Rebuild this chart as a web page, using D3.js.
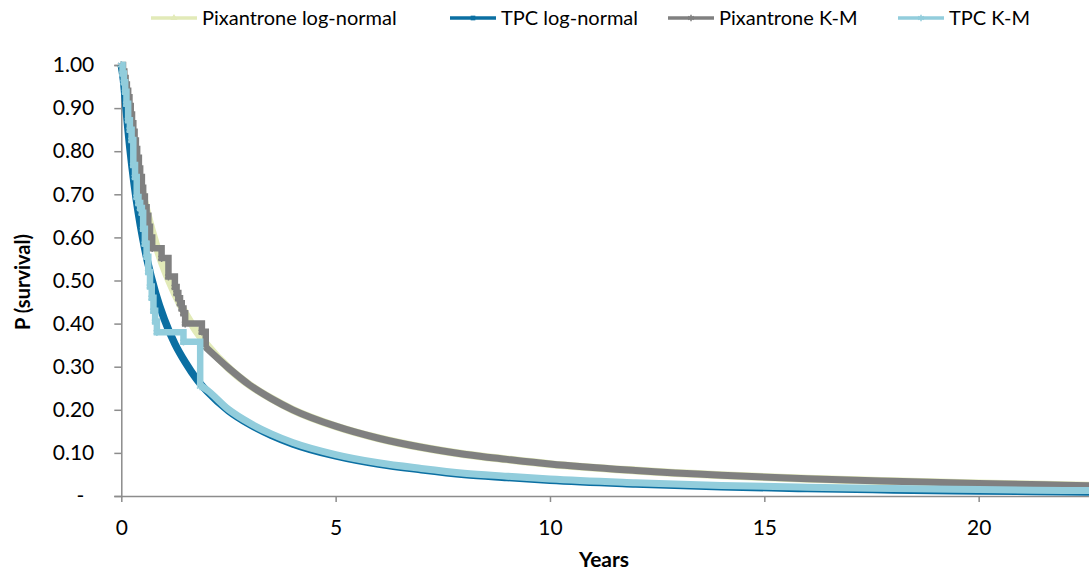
<!DOCTYPE html>
<html>
<head>
<meta charset="utf-8">
<script src="https://cdn.jsdelivr.net/npm/d3@7"></script>
<style>
  body { margin: 0; background: #ffffff; }
  svg text { font-family: Lato, "Noto Sans", sans-serif; fill: #000; }
</style>
</head>
<body>
<svg id="chart" width="1089" height="572"></svg>
<script>
// Survival curves: fitted log-normal vs Kaplan-Meier (years)
const years = [0, 0.05, 0.1, 0.15, 0.2, 0.3, 0.4, 0.5, 0.6, 0.8, 1, 1.25, 1.5, 1.75, 2, 2.5, 3, 3.5, 4, 5, 6, 7, 8, 9, 10, 12, 14, 16, 18, 20, 22, 25];
const pixantroneLogNormal = [1, 0.979, 0.944, 0.906, 0.871, 0.806, 0.750, 0.700, 0.658, 0.586, 0.528, 0.470, 0.422, 0.383, 0.350, 0.297, 0.257, 0.226, 0.200, 0.162, 0.134, 0.113, 0.097, 0.085, 0.074, 0.059, 0.048, 0.040, 0.034, 0.029, 0.025, 0.020];
const tpcLogNormal = [1, 0.965, 0.911, 0.857, 0.808, 0.724, 0.655, 0.598, 0.549, 0.471, 0.411, 0.353, 0.309, 0.272, 0.243, 0.198, 0.166, 0.141, 0.121, 0.093, 0.074, 0.061, 0.050, 0.043, 0.0365, 0.028, 0.0216, 0.0173, 0.0142, 0.0118, 0.0099, 0.0078];

// Kaplan-Meier step points (time of event, survival after event)
const pixantroneKmYears = [0, 0.04, 0.07, 0.10, 0.13, 0.16, 0.19, 0.22, 0.25, 0.28, 0.31, 0.34, 0.37, 0.41, 0.44, 0.48, 0.51, 0.55, 0.59, 0.63, 0.67, 0.72, 0.94, 1.10, 1.25, 1.29, 1.33, 1.37, 1.41, 1.45, 1.49, 1.88, 1.97];
const pixantroneKm = [1.00, 0.985, 0.97, 0.955, 0.94, 0.925, 0.905, 0.885, 0.865, 0.845, 0.825, 0.805, 0.785, 0.76, 0.74, 0.715, 0.695, 0.67, 0.65, 0.625, 0.60, 0.575, 0.552, 0.509, 0.485, 0.471, 0.459, 0.447, 0.435, 0.424, 0.40, 0.381, 0.345];
const tpcKmYears = [0, 0.03, 0.06, 0.09, 0.12, 0.16, 0.20, 0.24, 0.28, 0.32, 0.36, 0.40, 0.44, 0.48, 0.51, 0.55, 0.59, 0.63, 0.67, 0.71, 0.75, 0.79, 0.83, 1.45, 1.84];
const tpcKm = [1.0, 0.98, 0.96, 0.938, 0.91, 0.872, 0.85, 0.826, 0.768, 0.74, 0.694, 0.68, 0.668, 0.657, 0.62, 0.585, 0.555, 0.52, 0.486, 0.46, 0.43, 0.405, 0.38, 0.358, 0.254];

// K-M series continue along the extrapolated curve after the last event
const pixantroneKmTailYears = [1.97, 2.5, 3, 3.5, 4, 5, 6, 7, 8, 9, 10, 12, 14, 16, 18, 20, 22, 25];
const pixantroneKmTail = [0.345, 0.297, 0.257, 0.226, 0.200, 0.162, 0.134, 0.113, 0.097, 0.085, 0.074, 0.059, 0.048, 0.040, 0.034, 0.029, 0.025, 0.020];
const tpcKmTailYears = [1.84, 2, 2.5, 3, 3.5, 4, 5, 6, 7, 8, 9, 10, 12, 14, 16, 18, 20, 22, 25];
const tpcKmTail = [0.257, 0.246, 0.201, 0.169, 0.144, 0.124, 0.096, 0.077, 0.064, 0.053, 0.046, 0.0395, 0.031, 0.0246, 0.0203, 0.0172, 0.0148, 0.0129, 0.0108];

const xTicks = [0, 5, 10, 15, 20];
const yTicks = [0, 0.1, 0.2, 0.3, 0.4, 0.5, 0.6, 0.7, 0.8, 0.9, 1.0];
const seriesNames = ["Pixantrone log-normal", "TPC log-normal", "Pixantrone K-M", "TPC K-M"];
const seriesColors = ["#e2eab8", "#0b6fa2", "#808080", "#92cddc"];

const svg = d3.select("#chart");
const x = d3.scaleLinear().domain([0, 25]).range([121.3, 1193]);
const y = d3.scaleLinear().domain([0, 1]).range([496, 65]);
const axisColor = "#8c8c8c";

// y axis
const yAxis = svg.append("g")
  .attr("transform", `translate(${x(0)},0)`)
  .call(d3.axisLeft(y).tickValues(yTicks).tickSize(7).tickPadding(20)
    .tickFormat(d => d === 0 ? "-" : d3.format(".2f")(d)));
yAxis.select(".domain").attr("stroke", axisColor).attr("stroke-width", 1.5);
yAxis.selectAll(".tick line").attr("stroke", axisColor).attr("stroke-width", 1.5);
yAxis.selectAll(".tick text").attr("font-size", 21).attr("font-family", "Lato");
yAxis.selectAll(".tick text").filter(d => d === 0).attr("x", -41).attr("text-anchor", "middle");

// x axis
const xAxis = svg.append("g")
  .attr("transform", `translate(0,${y(0)})`)
  .call(d3.axisBottom(x).tickValues(xTicks).tickSize(6).tickSizeOuter(0).tickPadding(18));
xAxis.select(".domain").attr("stroke", axisColor).attr("stroke-width", 1.5);
xAxis.selectAll(".tick line").attr("stroke", axisColor).attr("stroke-width", 1.5);
xAxis.selectAll(".tick text").attr("font-size", 21).attr("font-family", "Lato");

// axis titles
svg.append("text").attr("x", 604).attr("y", 567).attr("text-anchor", "middle")
  .attr("font-size", 21).attr("font-weight", "bold").text("Years");
svg.append("text").attr("transform", "translate(30,282) rotate(-90)").attr("text-anchor", "middle")
  .attr("font-size", 20).attr("font-weight", "bold").text("P (survival)");

// curves
const plot = svg.append("g");
const smooth = d3.line().x(d => x(d[0])).y(d => y(d[1])).curve(d3.curveMonotoneX);
const steps = d3.line().x(d => x(d[0])).y(d => y(d[1])).curve(d3.curveStepAfter);
const zip = (a, b) => a.map((v, i) => [v, b[i]]);

plot.append("path").datum(zip(years, pixantroneLogNormal)).attr("d", smooth)
  .attr("fill", "none").attr("stroke", seriesColors[0]).attr("stroke-width", 8);
plot.append("path").datum(zip(years, tpcLogNormal)).attr("d", smooth)
  .attr("fill", "none").attr("stroke", seriesColors[1]).attr("stroke-width", 7.5);

function kmSeries(tY, tS, tailY, tailS, color) {
  const g = plot.append("g");
  const pts = zip(tY, tS);
  g.append("path").datum(pts).attr("d", steps)
    .attr("fill", "none").attr("stroke", color).attr("stroke-width", 6.5).attr("stroke-linejoin", "miter");
  g.append("path").datum(zip(tailY, tailS)).attr("d", smooth)
    .attr("fill", "none").attr("stroke", color).attr("stroke-width", 7);
  const sym = d3.symbol().type(d3.symbolAsterisk).size(40);
  g.selectAll("path.mk").data(pts).enter().append("path").attr("class", "mk")
    .attr("d", sym).attr("transform", d => `translate(${x(d[0])},${y(d[1])})`)
    .attr("fill", "none").attr("stroke", color).attr("stroke-width", 1.5);
}
kmSeries(pixantroneKmYears, pixantroneKm, pixantroneKmTailYears, pixantroneKmTail, seriesColors[2]);
kmSeries(tpcKmYears, tpcKm, tpcKmTailYears, tpcKmTail, seriesColors[3]);

// legend
const legendX = [151, 450, 668, 898];
const legend = svg.append("g");
seriesNames.forEach((name, i) => {
  const lg = legend.append("g").attr("transform", `translate(${legendX[i]},18)`);
  lg.append("line").attr("x1", 0).attr("x2", 46).attr("y1", 0).attr("y2", 0)
    .attr("stroke", seriesColors[i]).attr("stroke-width", 3.5);
  const markerType = [d3.symbolTriangle, d3.symbolSquare, d3.symbolAsterisk, d3.symbolAsterisk][i];
  const mk = lg.append("path").attr("d", d3.symbol().type(markerType).size(i < 2 ? 22 : 30)())
    .attr("transform", "translate(23,0)");
  if (i < 2) mk.attr("fill", seriesColors[i]);
  else mk.attr("fill", "none").attr("stroke", seriesColors[i]).attr("stroke-width", 1.5);
  lg.append("text").attr("x", 51).attr("y", 7).attr("font-size", 20).text(name);
});
</script>
</body>
</html>
